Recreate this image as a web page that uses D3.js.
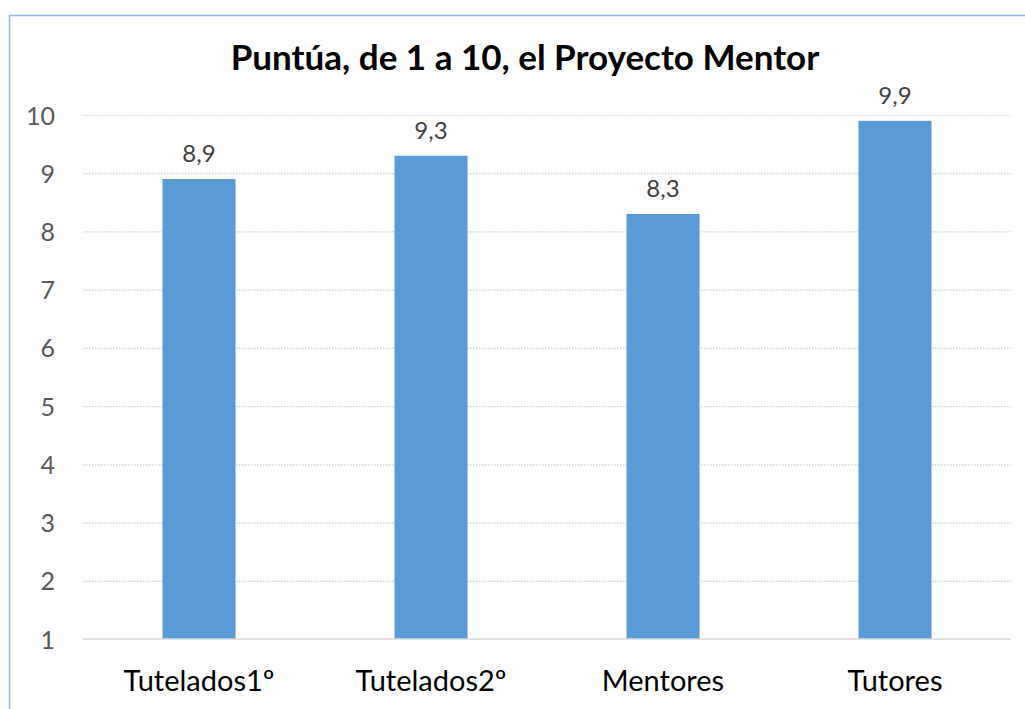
<!DOCTYPE html>
<html>
<head>
<meta charset="utf-8">
<script src="https://cdn.jsdelivr.net/npm/d3@7"></script>
<style>
  body { margin: 0; background: #fff; }
  svg { display: block; font-family: Lato, "Open Sans", sans-serif; }
</style>
</head>
<body>
<div id="chart"></div>
<script>
var width = 1025;
var height = 709;

var categories = ["Tutelados1º", "Tutelados2º", "Mentores", "Tutores"];
var values = [8.9, 9.3, 8.3, 9.9];
var yTicks = [1, 2, 3, 4, 5, 6, 7, 8, 9, 10];
var title = "Puntúa, de 1 a 10, el Proyecto Mentor";

var svg = d3.select("#chart").append("svg")
  .attr("width", width)
  .attr("height", height);

// chart frame (runs past the picture on the right and bottom)
svg.append("rect")
  .attr("x", 9.5).attr("y", 15.5)
  .attr("width", 1040).attr("height", 720)
  .attr("fill", "none")
  .attr("stroke", "#8FB8E3")
  .attr("stroke-width", 1.5);

var xScale = d3.scaleBand().domain(categories).range([83, 1011]).paddingInner(0.685).paddingOuter(0.3425);
var yScale = d3.scaleLinear().domain([1, 10]).range([639, 115]);

// gridlines
svg.append("g").selectAll("line")
  .data(yTicks.filter(d => d > 1))
  .enter().append("line")
  .attr("x1", 83).attr("x2", 1011)
  .attr("y1", d => yScale(d) + 0.5).attr("y2", d => yScale(d) + 0.5)
  .attr("stroke", "#D0D0D0")
  .attr("stroke-width", 1.2)
  .attr("stroke-dasharray", "1.5,1.5");

// bars
svg.append("g").selectAll("rect")
  .data(values)
  .enter().append("rect")
  .attr("x", (d, i) => xScale(categories[i]))
  .attr("width", xScale.bandwidth())
  .attr("y", d => yScale(d))
  .attr("height", d => yScale(1) - yScale(d))
  .attr("fill", "#5B9BD5");

// baseline
svg.append("line")
  .attr("x1", 83).attr("x2", 1011)
  .attr("y1", yScale(1)).attr("y2", yScale(1))
  .attr("stroke", "#D9D9D9")
  .attr("stroke-width", 1.5);

// y axis labels
var yAxis = d3.axisLeft(yScale).tickValues(yTicks).tickSize(0).tickPadding(0);
var gy = svg.append("g").attr("transform", "translate(55,0)").call(yAxis);
gy.select(".domain").remove();
gy.selectAll("text")
  .attr("fill", "#595959")
  .style("font-size", "25px")
  .attr("dy", "0.36em")
  .style("font-family", "Lato, 'Open Sans', sans-serif");

// x axis labels
var xAxis = d3.axisBottom(xScale).tickSize(0).tickPadding(0);
var gx = svg.append("g").attr("transform", "translate(0,681)").call(xAxis);
gx.select(".domain").remove();
gx.selectAll("text")
  .attr("fill", "#000")
  .attr("dy", "0.36em")
  .style("font-size", "29px")
  .style("font-family", "Lato, 'Open Sans', sans-serif");

// value labels
svg.append("g").selectAll("text")
  .data(values)
  .enter().append("text")
  .attr("x", (d, i) => xScale(categories[i]) + xScale.bandwidth() / 2)
  .attr("y", d => yScale(d) - 17)
  .attr("text-anchor", "middle")
  .attr("fill", "#404040")
  .style("font-size", "24px")
  .text(d => d3.format(".1f")(d).replace(".", ","));

// title
svg.append("text")
  .attr("x", 525)
  .attr("y", 70)
  .attr("text-anchor", "middle")
  .attr("fill", "#000")
  .style("font-size", "35px")
  .style("font-weight", "bold")
  .text(title);
</script>
</body>
</html>
